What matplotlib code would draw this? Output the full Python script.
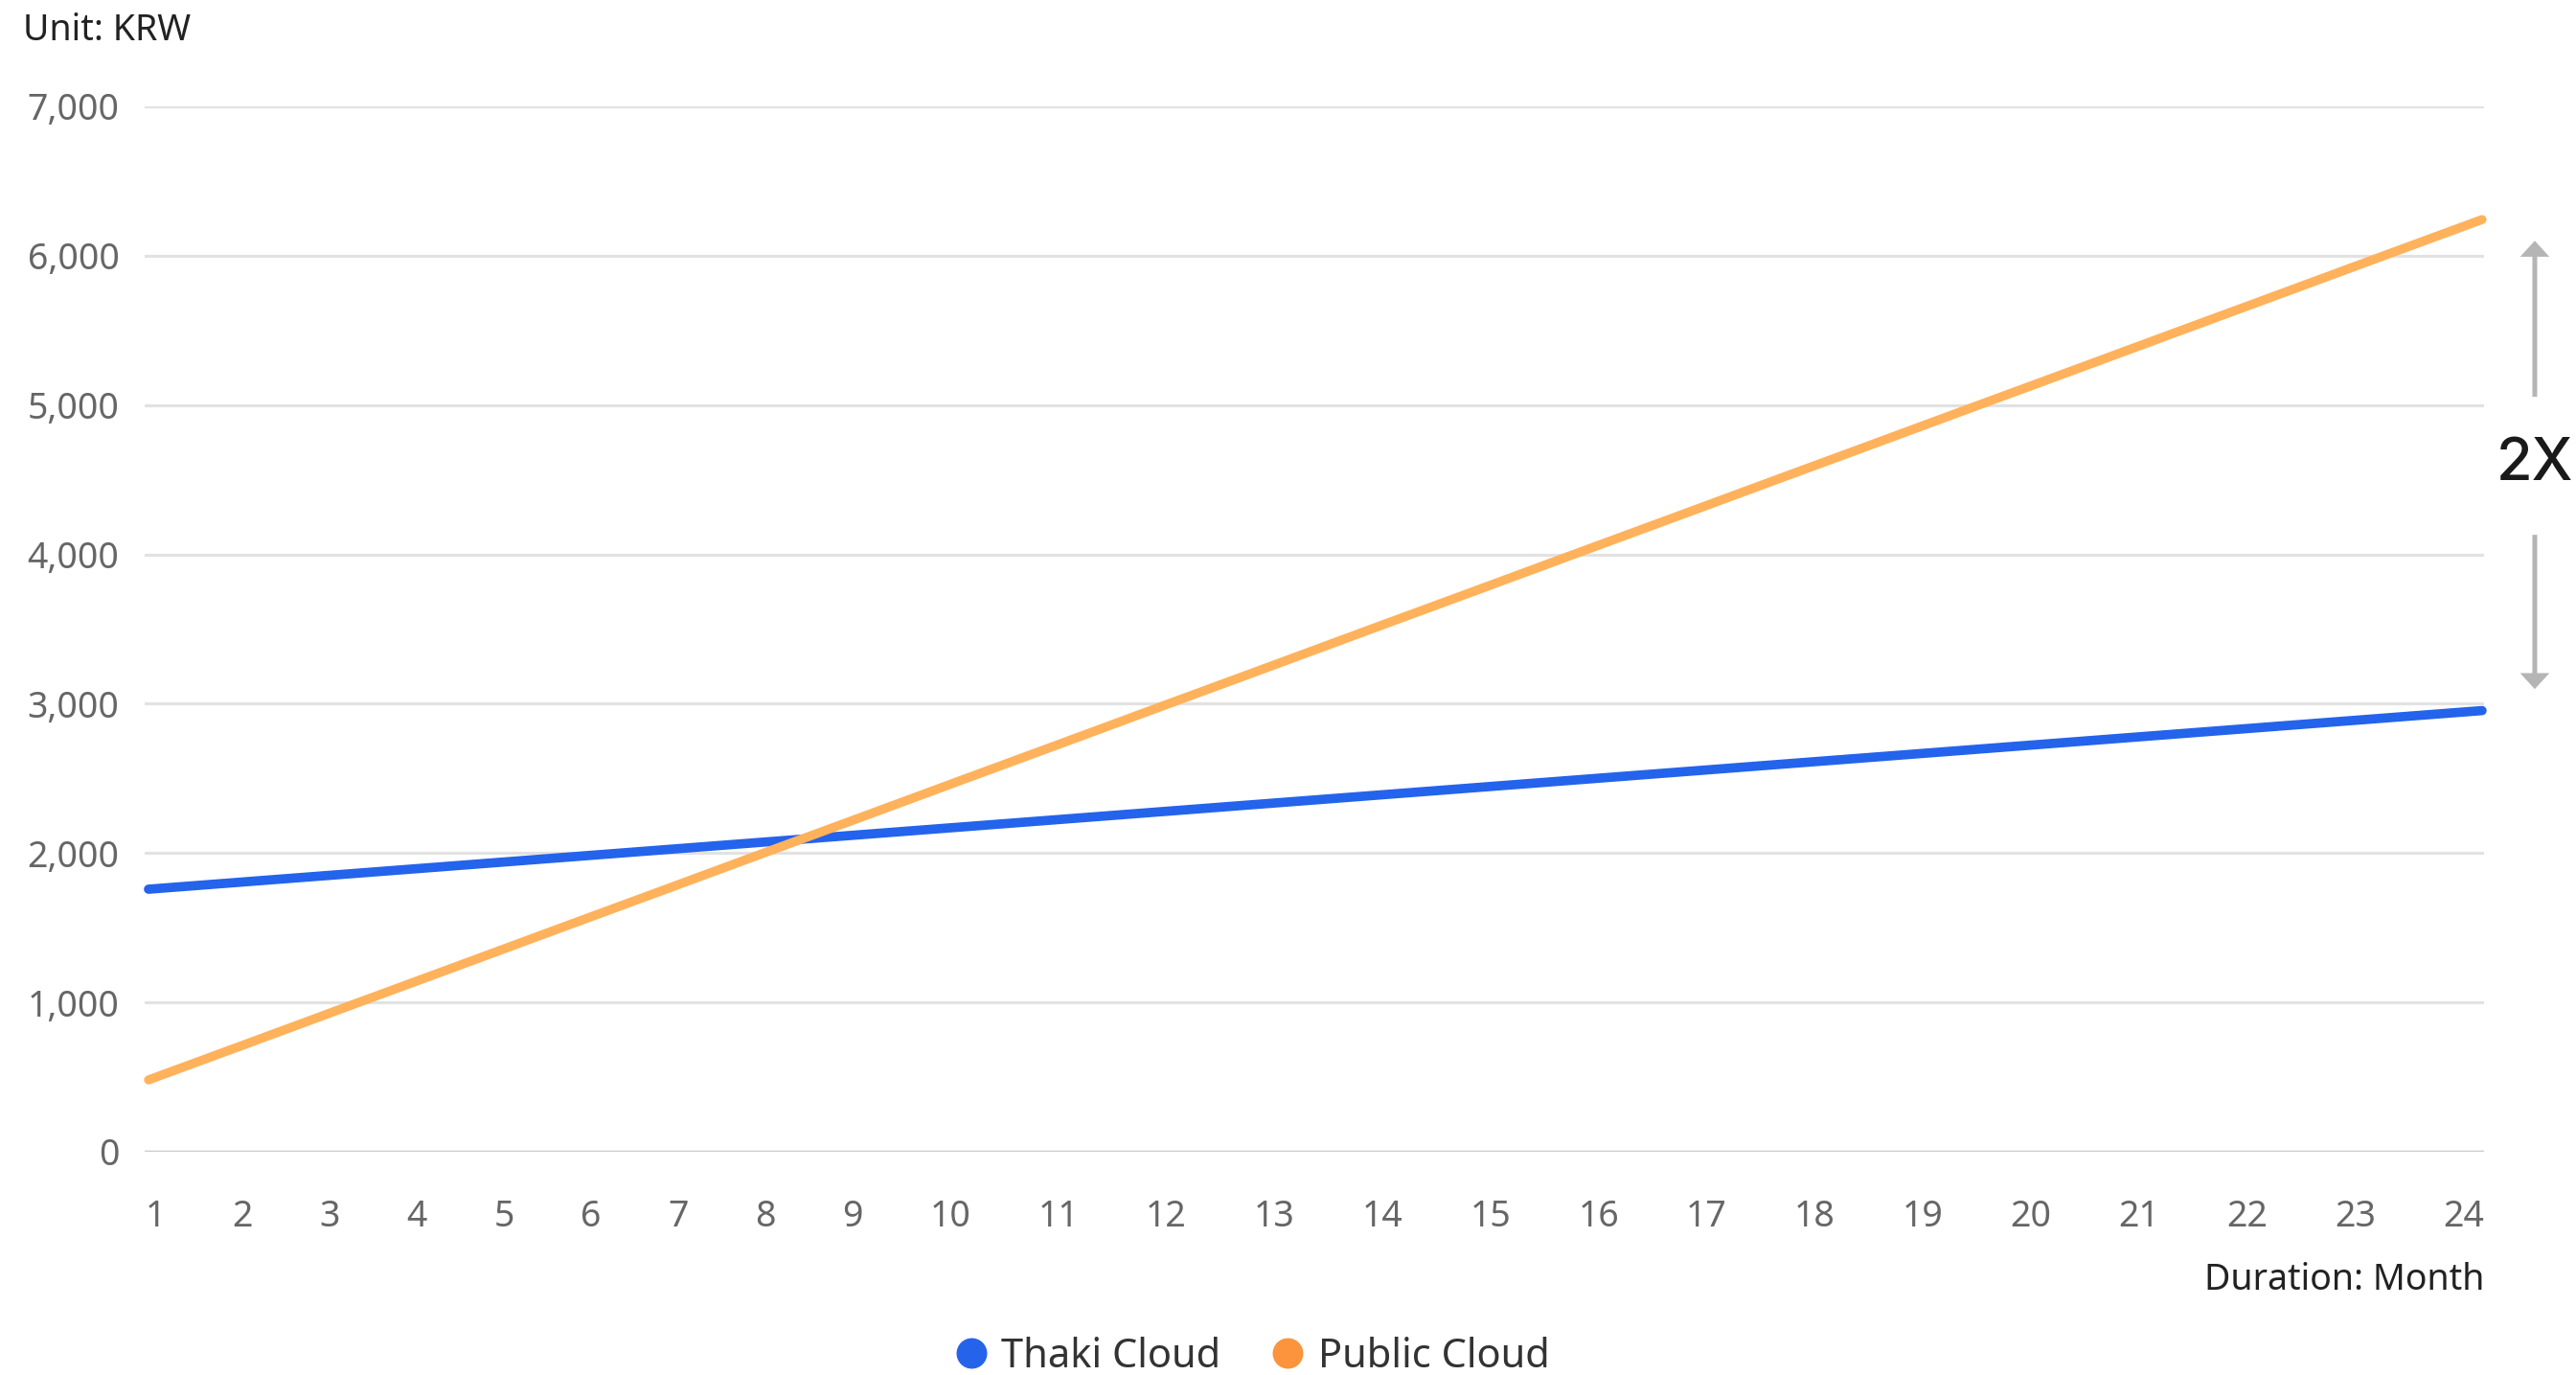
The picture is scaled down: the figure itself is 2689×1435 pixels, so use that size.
import matplotlib
matplotlib.use('Agg')
import matplotlib.pyplot as plt
from matplotlib.lines import Line2D

plt.rcParams['font.family'] = ['Noto Sans', 'DejaVu Sans']

# Data (KRW by month)
months = list(range(1, 25))
thaki_cloud = [1758, 1810, 1862, 1914, 1966, 2018, 2070, 2122, 2174, 2226, 2278, 2330,
               2382, 2434, 2486, 2538, 2590, 2642, 2694, 2746, 2798, 2850, 2902, 2954]
public_cloud = [481, 731, 982, 1232, 1483, 1733, 1984, 2234, 2485, 2735, 2986, 3236,
                3487, 3737, 3988, 4238, 4489, 4739, 4990, 5240, 5491, 5741, 5992, 6242]
y_ticks = [0, 1000, 2000, 3000, 4000, 5000, 6000, 7000]
y_labels = ['0', '1,000', '2,000', '3,000', '4,000', '5,000', '6,000', '7,000']
series_names = ['Thaki Cloud', 'Public Cloud']

W, H = 2689, 1435
fig = plt.figure(figsize=(W / 100, H / 100), dpi=100)
ax = fig.add_axes([151 / W, (H - 1202) / H, (2593 - 151) / W, (1202 - 111) / H])

ax.plot(months, thaki_cloud, color='#2463EB', lw=7, solid_capstyle='round',
        clip_on=False, zorder=3)
ax.plot(months, public_cloud, color='#FFB25B', lw=6.8, solid_capstyle='round',
        clip_on=False, zorder=4)

x0, x1 = 0.962, 24.02
ax.set_xlim(x0, x1)
ax.set_ylim(0, 7000)

# grid
ax.set_yticks(y_ticks)
ax.set_yticklabels(y_labels)
ax.yaxis.grid(True, color='#e2e2e2', lw=2.3)
ax.set_axisbelow(True)
ax.axhline(0, color='#cccccc', lw=2.5, zorder=1)
for s in ax.spines.values():
    s.set_visible(False)
ax.tick_params(axis='y', length=0, pad=19, labelsize=27, labelcolor='#666666')

# month labels spread edge to edge (space-between layout)
axis_px = 2593 - 151
digit_px = 21.8
labels = [str(m) for m in months]
total_chars = sum(len(l) for l in labels)
gap = (axis_px - total_chars * digit_px) / (len(labels) - 1)
pos = []
left = 0
for l in labels:
    w = len(l) * digit_px
    pos.append(x0 + (left + w / 2) / axis_px * (x1 - x0))
    left += w + gap
ax.set_xticks(pos)
ax.set_xticklabels(labels)
ax.tick_params(axis='x', length=0, pad=49, labelsize=27, labelcolor='#666666')
for t in ax.get_xticklabels():
    t.set_verticalalignment('center')

# 2X arrows
arr = dict(width=3.6, headwidth=22, headlength=12, shrink=0,
           color='#b5b5b5', lw=0)
ax.annotate('', xy=(24.52, 6100), xytext=(24.52, 5055), arrowprops=arr,
            annotation_clip=False)
ax.annotate('', xy=(24.52, 3098), xytext=(24.52, 4131), arrowprops=arr,
            annotation_clip=False)
ax.text(24.52, 4599, '2X', ha='center', va='center', fontsize=44,
        fontweight='medium', color='#1a1a1a',
        family=['Inter', 'Liberation Sans', 'DejaVu Sans'], clip_on=False)

fig.text(24 / W, 1 - 32 / H, 'Unit: KRW', ha='left', va='center',
         fontsize=27, color='#222222')
fig.text(2593 / W, 1 - 1336 / H, 'Duration: Month', ha='right', va='center',
         fontsize=27, color='#222222')

handles = [Line2D([], [], ls='none', marker='o', markersize=22,
                  markerfacecolor=c, markeredgecolor=c)
           for c in ['#2563EB', '#FB943C']]
fig.legend(handles, series_names, loc='center', bbox_to_anchor=(1308 / W, 1 - 1416 / H),
           ncol=2, frameon=False, fontsize=30, labelcolor='#333333',
           handlelength=0.75, handletextpad=0.38, columnspacing=1.3)

fig.savefig('out.png', dpi=100)
